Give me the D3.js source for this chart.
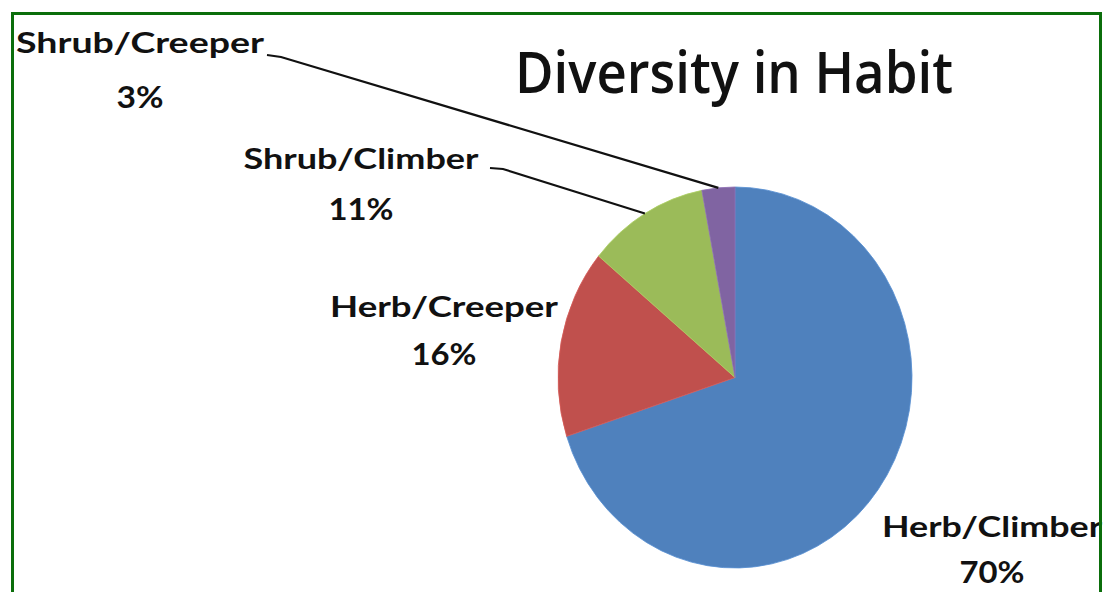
<!DOCTYPE html>
<html>
<head>
<meta charset="utf-8">
<script src="https://cdn.jsdelivr.net/npm/d3@7"></script>
<style>
  html, body { margin: 0; padding: 0; background: #fff; }
  svg { display: block; }
</style>
</head>
<body>
<svg id="chart" width="1103" height="592"></svg>
<script>
// ---- data ----
const categories = ["Herb/Climber", "Herb/Creeper", "Shrub/Climber", "Shrub/Creeper"];
const values = [70, 16, 11, 3];
const percentLabels = ["70%", "16%", "11%", "3%"];
const colors = ["#4F81BD", "#C0504D", "#9BBB59", "#8064A2"];
const title = "Diversity in Habit";

// ---- layout ----
const W = 1103, H = 592;
const cx = 735, cy = 377.5, rx = 177, ry = 190.5;
const svg = d3.select("#chart");

svg.append("rect").attr("width", W).attr("height", H).attr("fill", "#fff");

const data = categories.map((c, i) => ({ name: c, value: values[i], pct: percentLabels[i], color: colors[i] }));
const pie = d3.pie().sort(null).value(d => d.value).startAngle(0).endAngle(2 * Math.PI);
const arcs = pie(data);
const arc = d3.arc().innerRadius(0).outerRadius(rx);

const g = svg.append("g").attr("transform", `translate(${cx},${cy}) scale(1,${ry / rx})`);
g.selectAll("path").data(arcs).enter().append("path")
  .attr("d", arc)
  .attr("fill", d => d.data.color)
  .attr("stroke", d => d3.color(d.data.color).brighter(0.3))
  .attr("stroke-width", 0.8);

// point on ellipse edge at slice mid-angle
function edgePoint(a) {
  const m = (a.startAngle + a.endAngle) / 2;
  return [cx + rx * Math.sin(m), cy - ry * Math.cos(m)];
}

// ---- labels ----
const labelFont = "'Comic Sans MS', Lato, 'Open Sans', sans-serif";
const labelPos = {
  "Shrub/Creeper": { x: 140, y1: 53, y2: 108, w: 248, pw: 47, line: [[267, 55], [281, 57]] },
  "Shrub/Climber": { x: 361, y1: 169, y2: 220, w: 235, pw: 65, line: [[490, 168], [503, 169]] },
  "Herb/Creeper":  { x: 444, y1: 317, y2: 365, w: 228, pw: 65, line: null },
  "Herb/Climber":  { x: 992, y1: 537, y2: 583, w: 220, pw: 65, line: null }
};

const lab = svg.append("g");
arcs.forEach(a => {
  const p = labelPos[a.data.name];
  lab.append("text")
    .attr("x", p.x).attr("y", p.y1)
    .attr("text-anchor", "middle")
    .attr("font-family", labelFont)
    .attr("font-size", 29)
    .attr("font-weight", 700)
    .attr("fill", "#111")
    .attr("textLength", p.w).attr("lengthAdjust", "spacingAndGlyphs")
    .text(a.data.name);
  lab.append("text")
    .attr("x", p.x).attr("y", p.y2)
    .attr("text-anchor", "middle")
    .attr("font-family", labelFont)
    .attr("font-size", 30)
    .attr("font-weight", 700)
    .attr("fill", "#111")
    .attr("textLength", p.pw).attr("lengthAdjust", "spacingAndGlyphs")
    .text(a.data.pct);
  if (p.line) {
    const pts = p.line.concat([edgePoint(a)]);
    lab.append("path")
      .attr("d", d3.line()(pts))
      .attr("fill", "none")
      .attr("stroke", "#111")
      .attr("stroke-width", 2.2);
  }
});

// ---- title ----
svg.append("text")
  .attr("x", 734).attr("y", 93)
  .attr("text-anchor", "middle")
  .attr("font-family", "'Open Sans', 'Noto Sans', sans-serif")
  .attr("font-size", 57)
  .attr("font-weight", 600)
  .attr("fill", "#111")
  .attr("textLength", 438).attr("lengthAdjust", "spacingAndGlyphs")
  .text(title);

// ---- border ----
svg.append("rect")
  .attr("x", 12.5).attr("y", 13.5)
  .attr("width", 1088).attr("height", 620)
  .attr("fill", "none")
  .attr("stroke", "#0b6e0b")
  .attr("stroke-width", 3);
</script>
</body>
</html>
